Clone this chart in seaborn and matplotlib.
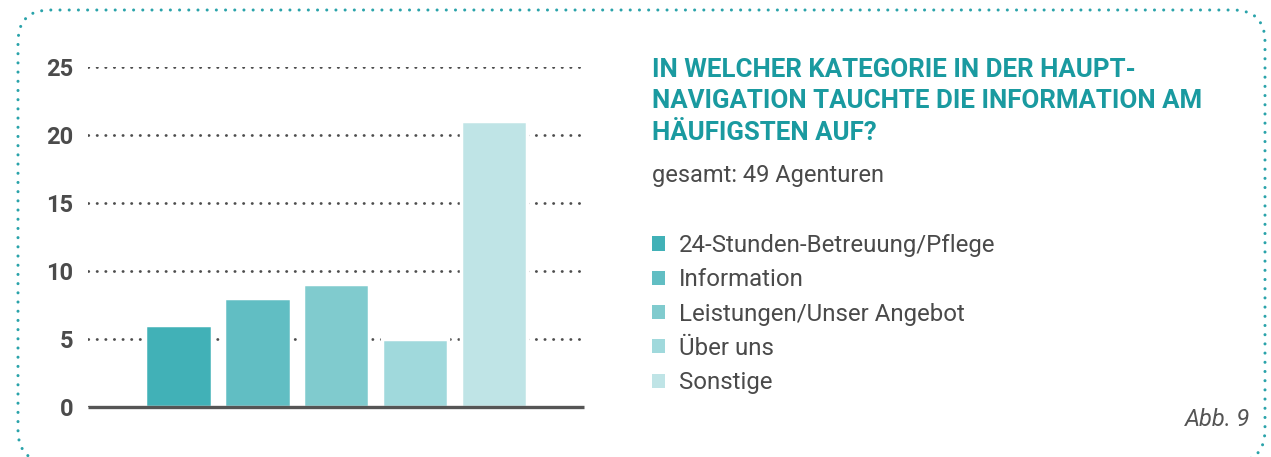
import matplotlib
matplotlib.use("Agg")
import matplotlib.pyplot as plt
import seaborn as sns
import pandas as pd
from matplotlib.patches import FancyBboxPatch, Patch
from matplotlib.transforms import IdentityTransform

# Data
categories = ["24-Stunden-Betreuung/Pflege", "Information", "Leistungen/Unser Angebot", "Über uns", "Sonstige"]
counts = [6, 8, 9, 5, 21]
bar_colors = ["#41b1b7", "#61bec3", "#80cbce", "#a0d9dc", "#bfe4e6"]
yticks = [0, 5, 10, 15, 20, 25]
title_lines = ["IN WELCHER KATEGORIE IN DER HAUPT-",
               "NAVIGATION TAUCHTE DIE INFORMATION AM",
               "HÄUFIGSTEN AUF?"]
subtitle = "gesamt: 49 Agenturen"
figure_label = "Abb. 9"

W, H = 1271, 457


def fx(px):
    return px / W


def fy(py):
    # pixel row measured from the top -> figure fraction
    return 1 - py / H


sns.set_style("white")
plt.rcParams["font.family"] = ["Roboto", "DejaVu Sans"]
plt.rcParams["lines.dash_capstyle"] = "round"

fig = plt.figure(figsize=(W / 100, H / 100), dpi=100)
ax = fig.add_axes([fx(88), fy(406.7), fx(584 - 88), (406.7 - 66.7) / H])

df = pd.DataFrame({"Kategorie": categories, "Anzahl": counts})
sns.barplot(data=df, x="Kategorie", y="Anzahl", hue="Kategorie", palette=bar_colors,
            saturation=1, width=0.84, edgecolor="white", linewidth=2.5, legend=False,
            ax=ax, zorder=3)

ax.set_xlim(-1.147, 5.14)
ax.set_ylim(0, 25)
ax.set_yticks(yticks)
ax.set_xticks([])
ax.set_xlabel("")
ax.set_ylabel("")
ax.set_axisbelow(True)
ax.yaxis.grid(True, linestyle=(0, (0.1, 3.0)), color="#4d4d4d", linewidth=2.0)
ax.tick_params(axis="y", length=0, pad=10.8, labelsize=17, labelcolor="#4b4b4b")
for lbl in ax.get_yticklabels():
    lbl.set_fontweight("bold")
sns.despine(ax=ax, left=True, bottom=True)
ax.axhline(0, color="#555555", linewidth=2.4, zorder=4, clip_on=False, solid_capstyle="butt")

# Title block on the right
for i, line in enumerate(title_lines):
    fig.text(fx(652), fy(77 + 31.5 * i), line, fontsize=18.6, fontweight="bold",
             color="#1a9aa0", ha="left", va="baseline")
fig.text(fx(652), fy(182), subtitle, fontsize=17, color="#4a4a4a", ha="left", va="baseline")

handles = [Patch(facecolor=c, edgecolor="none") for c in bar_colors]
fig.legend(handles, categories, loc="upper left", bbox_to_anchor=(fx(652), fy(234)),
           frameon=False, fontsize=17.3, labelcolor="#4a4a4a", handlelength=0.53,
           handleheight=0.53, handletextpad=0.6, labelspacing=0.47, borderpad=0,
           borderaxespad=0)

fig.text(fx(1250), fy(426), figure_label, fontsize=17, style="italic", color="#555555",
         ha="right", va="baseline")

# Dotted rounded frame around everything
border = FancyBboxPatch((18, H - 462), 1265 - 18, 462 - 10,
                        boxstyle="round,pad=0,rounding_size=32",
                        transform=IdentityTransform(), fill=False, edgecolor="#2aa3aa",
                        linewidth=2.2, linestyle=(0, (0.01, 3.0)), capstyle="round")
fig.add_artist(border)

fig.savefig("out.png", dpi=100, facecolor="white")
